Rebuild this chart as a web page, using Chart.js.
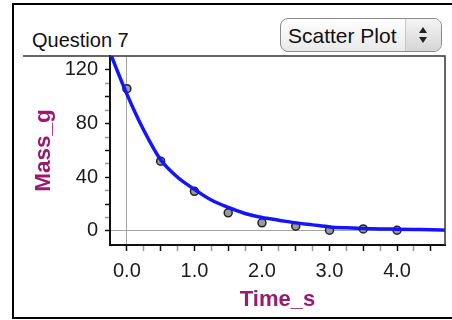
<!DOCTYPE html>
<html>
<head>
<meta charset="utf-8">
<script src="https://cdn.jsdelivr.net/npm/chart.js@4/dist/chart.umd.min.js"></script>
<style>
  html, body { margin: 0; padding: 0; background: #fff; overflow: hidden; }
  body { width: 452px; height: 320px; position: relative; font-family: "Liberation Sans", Arial, sans-serif; }
  #frame { position: absolute; left: 12px; top: 3px; width: 470px; height: 312px; border: 2px solid #000; box-sizing: content-box; }
  #title { position: absolute; left: 32px; top: 30px; font-size: 20px; line-height: 20px; color: #111; }
  #picker { position: absolute; left: 280px; top: 18px; width: 162px; height: 34px; border: 1px solid #8a8a8a; border-radius: 8px;
    background: linear-gradient(#ffffff, #e9e9e9); box-sizing: border-box; }
  #picker span { position: absolute; left: 7px; top: 6px; font-size: 21px; line-height: 21px; color: #111; }
  #picker .btn { position: absolute; right: 0; top: 0; width: 35px; height: 32px; border-left: 1px solid #c8c8c8;
    border-radius: 0 7px 7px 0; background: linear-gradient(#f4f4f4, #d6d6d6); }
  .up, .down { position: absolute; left: 13px; width: 0; height: 0; border-left: 4px solid transparent; border-right: 4px solid transparent; }
  .up { top: 8px; border-bottom: 6px solid #222; }
  .down { top: 18px; border-top: 6px solid #222; }
  canvas { position: absolute; left: 0; top: 0; }
</style>
</head>
<body>
<div id="frame"></div>
<div id="title">Question 7</div>
<div id="picker"><span>Scatter Plot</span><div class="btn"><div class="up"></div><div class="down"></div></div></div>
<canvas id="massChart" width="452" height="320"></canvas>
<script>
// measured samples
const timeData = [0, 0.5, 1, 1.5, 2, 2.5, 3, 3.5, 4];
const massData = [106, 52, 29.5, 13.5, 6, 3.5, 0.5, 1.5, 0.5];

// exponential fit curve, sampled every 0.25 s
const fitTime = [-0.25, 0, 0.25, 0.5, 0.75, 1, 1.25, 1.5, 1.75, 2, 2.25, 2.5, 2.75, 3, 3.25, 3.5, 3.75, 4, 4.25, 4.5, 4.75];
const fitMass = [133, 102, 75, 53, 40, 31, 23, 17.5, 13, 10, 8, 6, 4.5, 3, 2.3, 1.8, 1.5, 1.3, 1.1, 0.9, 0.5];

// tick positions
const timeTicks = [0, 0.25, 0.5, 0.75, 1, 1.25, 1.5, 1.75, 2, 2.25, 2.5, 2.75, 3, 3.25, 3.5, 3.75, 4, 4.25, 4.5];
const massTicks = [0, 10, 20, 30, 40, 50, 60, 70, 80, 90, 100, 110, 120];

const axisPurple = "#9a1a70";
const minorGray = "#9a9a9a";

Chart.defaults.font.family = '"Liberation Sans", Arial, sans-serif';
Chart.defaults.color = "#1a1a1a";

// top edge of the plot (runs left under the header) and the right edge
const plotFrame = {
  id: "plotFrame",
  afterDraw(chart) {
    const { ctx, chartArea } = chart;
    ctx.save();
    ctx.strokeStyle = "#333";
    ctx.lineWidth = 1.5;
    ctx.beginPath();
    ctx.moveTo(23, chartArea.top);
    ctx.lineTo(chartArea.right, chartArea.top);
    ctx.lineTo(chartArea.right, chartArea.bottom);
    ctx.stroke();
    ctx.restore();
  }
};

new Chart(document.getElementById("massChart"), {
  type: "scatter",
  data: {
    datasets: [
      {
        type: "line",
        data: fitTime.map((t, i) => ({ x: t, y: fitMass[i] })),
        borderColor: "#1414ff",
        borderWidth: 3.5,
        pointRadius: 0,
        cubicInterpolationMode: "monotone",
        fill: false,
        clip: 0
      },
      {
        data: timeData.map((t, i) => ({ x: t, y: massData[i] })),
        backgroundColor: "#9a9a9a",
        borderColor: "#222",
        borderWidth: 1.5,
        pointRadius: 4,
        clip: 0
      }
    ]
  },
  options: {
    responsive: false,
    animation: false,
    events: [],
    layout: { padding: { left: 14, top: 56, right: 7, bottom: 0 } },
    plugins: { legend: { display: false }, tooltip: { enabled: false } },
    scales: {
      x: {
        type: "linear",
        min: -0.25,
        max: 4.71,
        afterFit: (scale) => { scale.height = 75; },
        afterBuildTicks: (scale) => { scale.ticks = timeTicks.map((v) => ({ value: v })); },
        border: { display: true, color: "#111", width: 2 },
        grid: {
          color: (ctx) => (ctx.tick && ctx.tick.value === 0 ? "#a4a4a4" : "rgba(0,0,0,0)"),
          tickColor: (ctx) => ((ctx.tick.value * 2) % 1 === 0 ? "#111" : minorGray),
          tickLength: 6,
          tickWidth: 1.5
        },
        ticks: {
          autoSkip: false,
          maxRotation: 0,
          padding: 8,
          font: { size: 20 },
          callback: (v) => (Number.isInteger(v) ? v.toFixed(1) : "")
        },
        title: {
          display: true,
          text: "Time_s",
          color: axisPurple,
          font: { size: 22, weight: "bold" },
          padding: { top: 0, bottom: 7 }
        }
      },
      y: {
        type: "linear",
        min: -10.5,
        max: 130.4,
        afterFit: (scale) => { scale.width = 96; },
        afterBuildTicks: (scale) => { scale.ticks = massTicks.map((v) => ({ value: v })); },
        border: { display: true, color: "#111", width: 2 },
        grid: {
          color: (ctx) => (ctx.tick && ctx.tick.value === 0 ? "#a4a4a4" : "rgba(0,0,0,0)"),
          tickColor: (ctx) => (ctx.tick.value % 20 === 0 ? "#111" : minorGray),
          tickLength: 5,
          tickWidth: 1.5
        },
        ticks: {
          autoSkip: false,
          padding: 7,
          font: { size: 20 },
          callback: (v) => (v % 40 === 0 ? String(v) : "")
        },
        title: {
          display: true,
          text: "Mass_g",
          color: axisPurple,
          font: { size: 22.5, weight: "bold" },
          padding: { top: 16, bottom: 0 }
        }
      }
    }
  },
  plugins: [plotFrame]
});
</script>
</body>
</html>
